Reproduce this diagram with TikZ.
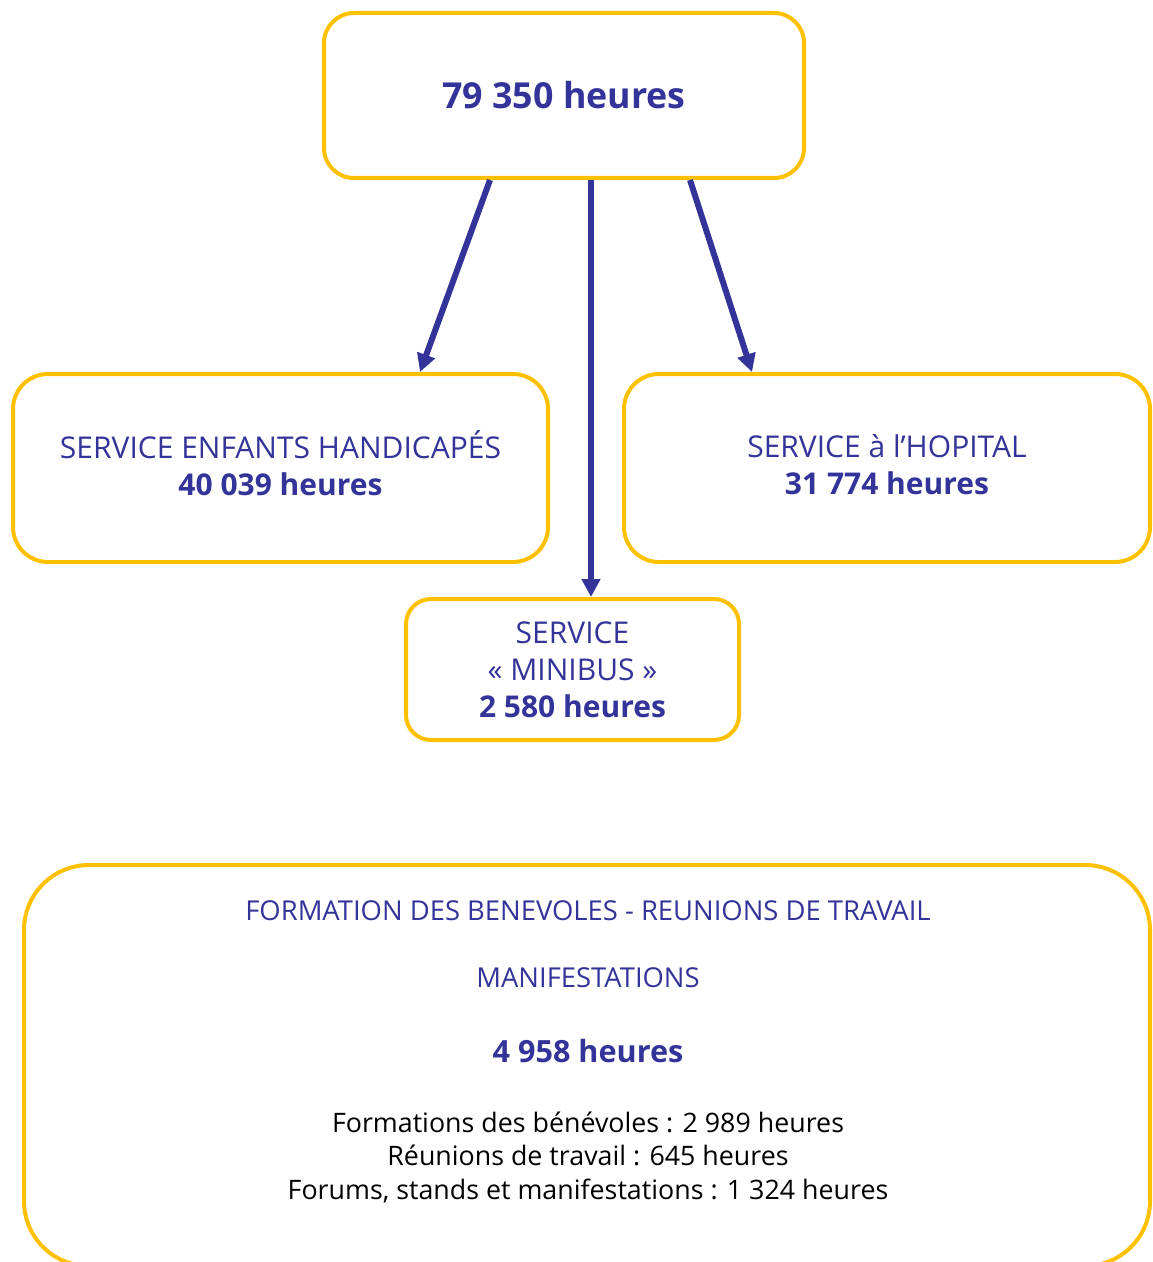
\documentclass[tikz,border=0pt]{standalone}
\usepackage{fontspec}
\setmainfont{Open Sans}
\usepackage{tikz}
\usetikzlibrary{arrows.meta,positioning,calc}
\definecolor{gold}{HTML}{FFC000}
\definecolor{navy}{HTML}{333399}
\tikzset {
	box/.style={rectangle, draw=gold, line width=2pt, inner sep=0pt, align=center, text=navy},
	small/.style={font=\fontsize{15}{18.5}\selectfont},
	link/.style={draw=navy, line width=3pt, -{Triangle[length=9pt, width=9pt]}},
	head/.style={text=navy, font=\fontsize{13.7}{18}\selectfont},
	detail/.style={align=center, font=\fontsize{13.4}{16.75}\selectfont}
}
\begin{document}
\begin{tikzpicture}[x=0.5pt, y=-0.5pt]
					\useasboundingbox (0,0) rectangle (1152,1262);
					\clip (0,0) rectangle (1152,1262);
					\node [box, minimum width=240pt, minimum height=82.5pt, rounded corners=15pt,
						font=\fontsize{17.9}{22}\selectfont\bfseries] (total) at (564,95.5) {79 350 heures};
					\node [box, small, minimum width=267.5pt, minimum height=94pt, rounded corners=17.5pt] (enfants) at (280.5,468)
						{SERVICE ENFANTS HANDICAPÉS\\ \textbf{40 039 heures}\\[-13.5pt]};
					\node [box, small, minimum width=263pt, minimum height=94pt, rounded corners=17.5pt] (hopital) at (887,468)
						{SERVICE à l’HOPITAL\\ \textbf{31 774 heures}\\[-15.5pt]};
					\node [box, small, minimum width=166.5pt, minimum height=70.5pt, rounded corners=12.5pt] (minibus) at (572.5,669.5)
						{SERVICE\\ « MINIBUS »\\ \textbf{2 580 heures}};
					\node [box, minimum width=563pt, minimum height=200.5pt, rounded corners=32.5pt] (formation) at (587,1065.5) {};
					\node [head] (formtitle) at (588,911) {FORMATION DES BENEVOLES - REUNIONS DE TRAVAIL};
					\node [head] (manif) at (588,978) {MANIFESTATIONS};
					\node [head, font=\fontsize{15.3}{18}\selectfont\bfseries] (formtotal) at (588,1051) {4 958 heures};
					\node [detail] (lines) at (588,1157) {Formations des bénévoles : 2 989 heures\\
						Réunions de travail : 645 heures\\
						Forums, stands et manifestations : 1 324 heures};
					\draw [link] ($(total.south)+(-74,0)$) -- ($(enfants.north)+(139.5,0)$);
					\draw [link] ($(total.south)+(27,0)$) -- ($(minibus.north)+(18.5,0)$);
					\draw [link] ($(total.south)+(126,0)$) -- ($(hopital.north)+(-135,0)$);
					\end{tikzpicture}
\end{document}
